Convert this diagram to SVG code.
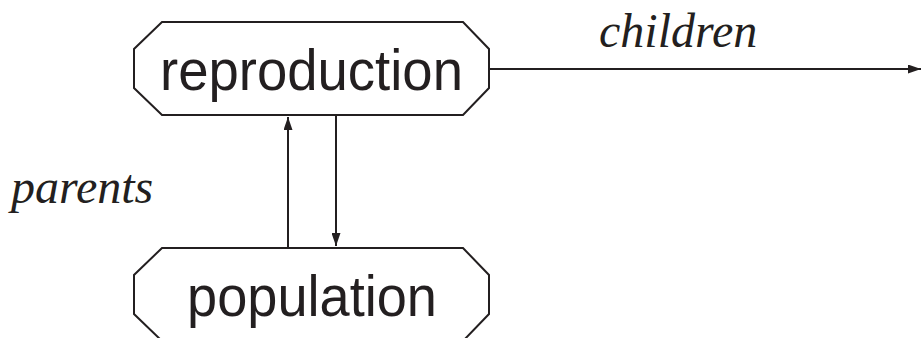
<svg xmlns="http://www.w3.org/2000/svg" width="921" height="338" viewBox="0 0 921 338">
<style>
.box{fill:#fff;stroke:#231f20;stroke-width:2}
.lbl{font-family:"Liberation Sans",Arial,sans-serif;font-size:58px;fill:#231f20}
.it{font-family:"Liberation Serif","Times New Roman",serif;font-style:italic;font-size:48px;fill:#231f20}
.ln{stroke:#231f20;stroke-width:2;fill:none}
</style>
<defs>
<marker id="ah" viewBox="0 0 13 9" refX="13" refY="4.5" markerWidth="13" markerHeight="9" markerUnits="userSpaceOnUse" orient="auto">
<path d="M0,0 L13,4.5 L0,9 Z" fill="#231f20"/>
</marker>
</defs>
<g id="reproduction">
<polygon class="box" points="162,22 463,22 489,49 489,88 463,115 162,115 134,88 134,49"/>
<text class="lbl" x="160" y="89.5" textLength="303" lengthAdjust="spacingAndGlyphs">reproduction</text>
</g>
<g id="population">
<polygon class="box" points="162,248 463,248 489,275 489,314 463,341 162,341 134,314 134,275"/>
<text class="lbl" x="187" y="316" textLength="250" lengthAdjust="spacingAndGlyphs">population</text>
</g>
<g id="connectors">
<line class="ln" x1="288" y1="247" x2="288" y2="117" marker-end="url(#ah)"/>
<line class="ln" x1="336" y1="116" x2="336" y2="246" marker-end="url(#ah)"/>
<line class="ln" x1="490" y1="69" x2="921" y2="69" marker-end="url(#ah)"/>
</g>
<text class="it" x="599" y="47">children</text>
<text class="it" x="11" y="203">parents</text>
</svg>
